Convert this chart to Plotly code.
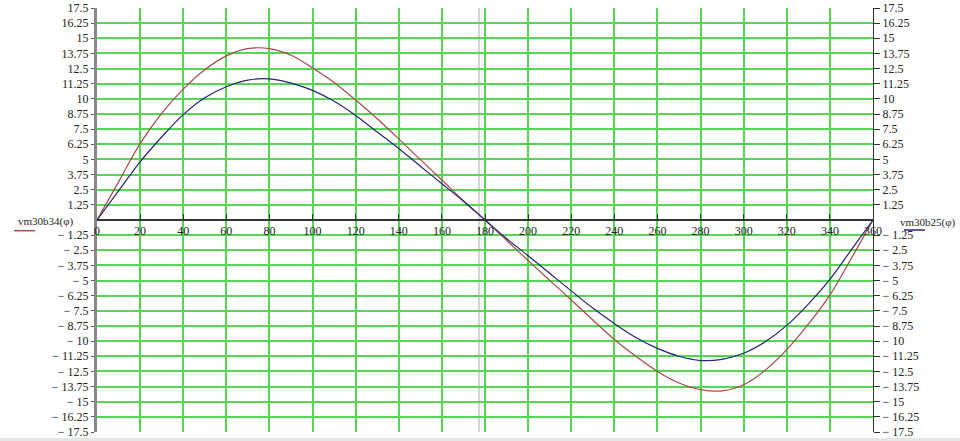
import plotly.graph_objects as go

# ---- data ----
phi = [0, 10, 20, 30, 40, 50, 60, 70, 80, 90, 100, 110, 120, 130, 140, 150, 160, 170, 180,
       190, 200, 210, 220, 230, 240, 250, 260, 270, 280, 290, 300, 310, 320, 330, 340, 350, 360]

vm30b34 = [0, 3.15, 6.3, 8.8, 10.8, 12.4, 13.55, 14.15, 14.15, 13.6, 12.55, 11.35, 9.9, 8.36, 6.7,
           4.98, 3.3, 1.6, 0, -1.67, -3.35, -4.98, -6.6, -8.25, -9.86, -11.25, -12.5, -13.45,
           -14.0, -14.1, -13.6, -12.4, -10.7, -8.6, -6.2, -3.15, 0]

vm30b25 = [0, 2.4, 4.8, 6.85, 8.7, 10.1, 11.0, 11.55, 11.65, 11.3, 10.7, 9.8, 8.63, 7.26, 5.9,
           4.44, 3.0, 1.55, 0, -1.53, -2.95, -4.4, -5.85, -7.27, -8.55, -9.7, -10.6, -11.25,
           -11.6, -11.5, -11.0, -10.05, -8.7, -6.94, -4.9, -2.45, 0]

x_ticks = list(range(0, 361, 20))
y_tick_vals = [-17.5, -16.25, -15, -13.75, -12.5, -11.25, -10, -8.75, -7.5, -6.25, -5, -3.75,
               -2.5, -1.25, 1.25, 2.5, 3.75, 5, 6.25, 7.5, 8.75, 10, 11.25, 12.5, 13.75, 15,
               16.25, 17.5]
y_tick_text = ["\u2212 17.5", "\u2212 16.25", "\u2212 15", "\u2212 13.75", "\u2212 12.5",
               "\u2212 11.25", "\u2212 10", "\u2212 8.75", "\u2212 7.5", "\u2212 6.25", "\u2212 5",
               "\u2212 3.75", "\u2212 2.5", "\u2212 1.25", "1.25", "2.5", "3.75", "5", "6.25",
               "7.5", "8.75", "10", "11.25", "12.5", "13.75", "15", "16.25", "17.5"]
CURSOR_X = 177.2

FONT = "Liberation Serif, Times New Roman, serif"
GRID = "#55d655"
RED = "#a84848"
BLUE = "#24247a"

fig = go.Figure()
fig.add_trace(go.Scatter(x=phi, y=vm30b34, mode="lines", line=dict(color=RED, width=1.2, shape="spline"),
                         name="vm30b34(\u03c6)", yaxis="y"))
fig.add_trace(go.Scatter(x=phi, y=vm30b25, mode="lines", line=dict(color=BLUE, width=1.2, shape="spline"),
                         name="vm30b25(\u03c6)", yaxis="y2"))

tickfont = dict(family=FONT, size=12, color="#222222")

fig.update_layout(
    width=960, height=441,
    margin=dict(l=97, r=87, t=8, b=9),
    paper_bgcolor="white", plot_bgcolor="white",
    showlegend=False,
    font=dict(family=FONT),
    xaxis=dict(range=[0, 360], tickmode="array", tickvals=x_ticks,
               ticks="inside", ticklen=5, tickcolor="#333333", tickwidth=1,
               showline=True, linecolor="#333333", linewidth=1.5,
               anchor="free", position=0.5,
               showgrid=True, gridcolor=GRID, gridwidth=1.5, zeroline=False,
               tickfont=tickfont, automargin=False),
    yaxis=dict(range=[-17.5, 17.5], tickmode="array", tickvals=y_tick_vals, ticktext=y_tick_text,
               ticks="outside", ticklen=3, tickcolor="#555555",
               showline=True, linecolor="#888888", linewidth=3,
               showgrid=True, gridcolor=GRID, gridwidth=1.5, zeroline=False,
               tickfont=tickfont, automargin=False),
    yaxis2=dict(range=[-17.5, 17.5], overlaying="y", side="right",
                tickmode="array", tickvals=y_tick_vals, ticktext=y_tick_text,
                ticks="outside", ticklen=6, tickcolor="#333333",
                showline=True, linecolor="#333333", linewidth=1,
                showgrid=False, zeroline=False, tickfont=tickfont, automargin=False),
)

# cursor line
fig.add_shape(type="line", xref="x", yref="paper", x0=CURSOR_X, x1=CURSOR_X, y0=0, y1=1,
              line=dict(color="#d4d4d4", width=2), layer="below")

# legend-style labels
fig.add_annotation(xref="paper", yref="paper", x=-0.1044, y=0.496, text="vm30b34(\u03c6)",
                   xanchor="left", yanchor="middle",
                   showarrow=False, font=dict(family=FONT, size=11, color="#222222"))
fig.add_shape(type="line", xref="paper", yref="paper", x0=-0.107, x1=-0.080, y0=0.4748, y1=0.4748,
              line=dict(color=RED, width=1.5))
fig.add_annotation(xref="paper", yref="paper", x=1.1095, y=0.4936, text="vm30b25(\u03c6)",
                   xanchor="right", yanchor="middle",
                   showarrow=False, font=dict(family=FONT, size=11, color="#222222"))
fig.add_shape(type="line", xref="paper", yref="paper", x0=1.040, x1=1.067, y0=0.4764, y1=0.4764,
              line=dict(color=BLUE, width=1.5))

# bottom window band
fig.add_shape(type="rect", xref="paper", yref="paper", x0=-0.126, x1=1.113, y0=-0.0215, y1=-0.0142,
              line=dict(width=0), fillcolor="#e6e6e6")

fig.write_html("out.html", config={"displayModeBar": False},
               post_script="document.body.style.margin='0px';document.body.style.overflow='hidden';")
